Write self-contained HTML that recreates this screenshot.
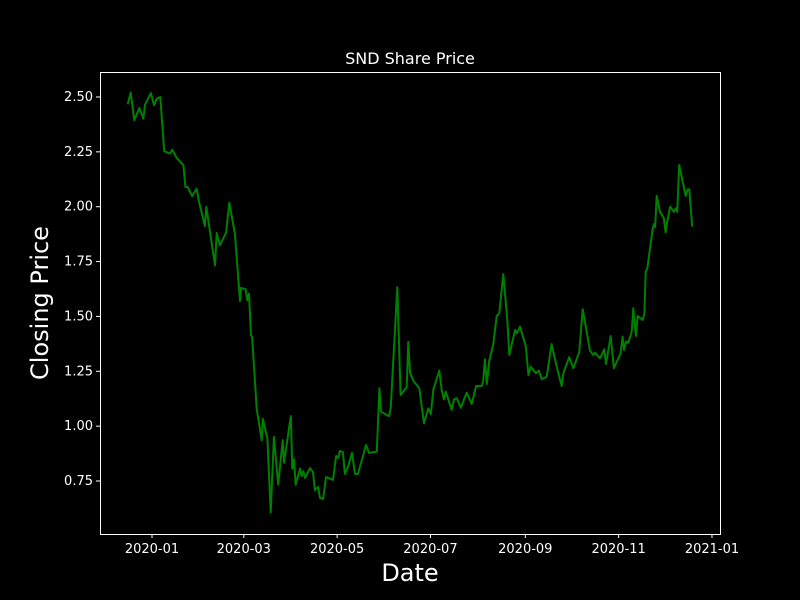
<!DOCTYPE html>
<html><head><meta charset="utf-8"><style>
html,body{margin:0;padding:0;background:#000;}
svg{display:block;font-family:"DejaVu Sans","Liberation Sans",sans-serif;}
</style></head><body>
<svg id="chart" width="800" height="600" viewBox="0 0 800 600" xmlns="http://www.w3.org/2000/svg">
<rect width="800" height="600" fill="#000"/>
<text x="410" y="64" fill="#fff" font-size="16" text-anchor="middle">SND Share Price</text>
<g id="yticks"></g>
<g id="xticks"></g>
<path id="line" fill="none" stroke="#008000" stroke-width="2" stroke-linejoin="round"/>
<rect x="100.5" y="72.5" width="620" height="462" fill="none" stroke="#fff" stroke-width="1"/>
<text x="410" y="581" fill="#fff" font-size="24" text-anchor="middle">Date</text>
<text transform="translate(48,303) rotate(-90)" fill="#fff" font-size="24" text-anchor="middle">Closing Price</text>
</svg>
<script>
// days since 2020-01-01
const days = [-15.9,-13.9,-11.6,-8.3,-5.7,-4.6,-0.7,1.3,3.1,5.4,8.0,11.8,13.3,16.1,20.5,21.8,23.3,26.3,29.2,30.5,34.6,35.5,41.2,42.3,44.4,48.4,50.5,54.2,57.5,58.2,61.2,62.3,63.4,64.7,65.4,68.4,71.7,72.4,75.4,77.6,79.7,82.5,85.4,86.3,90.7,91.7,92.8,93.9,96.7,97.8,98.9,100.0,103.3,105.2,106.5,108.5,109.8,111.8,113.7,118.3,120.3,121.6,122.9,124.8,126.1,128.1,130.7,132.7,134.6,137.9,139.9,141.8,146.9,148.6,149.7,153.4,154.9,156.0,160.3,162.5,166.5,167.5,168.6,170.8,174.7,177.8,180.6,182.2,183.9,187.8,189.3,190.8,192.0,195.9,197.4,199.2,201.8,205.7,209.0,211.8,215.5,216.5,217.6,218.8,220.3,223.1,225.3,227.0,229.6,232.2,233.5,237.3,238.4,240.5,244.4,246.0,247.5,251.0,252.9,254.7,258.0,261.2,264.5,267.8,268.8,272.7,275.4,279.3,281.5,286.3,288.4,289.5,292.8,295.6,296.7,299.8,301.9,306.3,307.6,308.5,309.8,311.3,313.5,314.6,316.3,317.4,320.7,321.8,322.7,323.7,327.3,328.1,328.8,329.9,332.0,334.6,335.7,336.8,338.6,341.2,342.5,343.3,344.6,348.8,350.1,351.2,353.1];
const prices = [2.467,2.520,2.394,2.450,2.401,2.465,2.518,2.462,2.492,2.500,2.253,2.242,2.260,2.223,2.189,2.090,2.090,2.049,2.082,2.029,1.912,1.999,1.733,1.880,1.824,1.882,2.018,1.877,1.570,1.630,1.624,1.574,1.604,1.414,1.406,1.080,0.936,1.034,0.943,0.606,0.951,0.733,0.936,0.833,1.046,0.806,0.849,0.733,0.806,0.773,0.794,0.764,0.809,0.791,0.709,0.723,0.673,0.668,0.768,0.755,0.864,0.855,0.887,0.882,0.782,0.814,0.878,0.782,0.782,0.864,0.914,0.878,0.884,1.173,1.066,1.051,1.046,1.081,1.633,1.142,1.177,1.385,1.244,1.207,1.173,1.013,1.081,1.055,1.168,1.253,1.168,1.122,1.157,1.074,1.122,1.127,1.084,1.153,1.101,1.183,1.183,1.203,1.305,1.192,1.294,1.374,1.502,1.514,1.693,1.484,1.324,1.438,1.423,1.453,1.362,1.233,1.271,1.241,1.253,1.214,1.225,1.374,1.271,1.183,1.241,1.314,1.264,1.339,1.533,1.344,1.324,1.335,1.309,1.350,1.283,1.411,1.264,1.332,1.408,1.347,1.385,1.380,1.430,1.537,1.411,1.502,1.484,1.514,1.704,1.719,1.902,1.921,1.906,2.050,1.977,1.947,1.883,1.932,2.000,1.977,1.993,1.977,2.190,2.049,2.079,2.079,1.909];
const yTickValues = [0.75,1.00,1.25,1.50,1.75,2.00,2.25,2.50];
const xTickDays = [0,60,121,182,244,305,366];
const xTickLabels = ["2020-01","2020-03","2020-05","2020-07","2020-09","2020-11","2021-01"];

const NS="http://www.w3.org/2000/svg";
function xScale(d){return 152 + d*1.530;}
function yScale(v){return 97 + (2.5 - v)*219.43;}

const yg=document.getElementById('yticks');
yTickValues.forEach(v=>{
  const y=yScale(v);
  const l=document.createElementNS(NS,'line');
  
  
  l.setAttribute('x1',96);l.setAttribute('x2',100);l.setAttribute('y1',y);l.setAttribute('y2',y);
  l.setAttribute('stroke','#fff');yg.appendChild(l);
  const t=document.createElementNS(NS,'text');
  
  
  t.setAttribute('x',93);t.setAttribute('y',y+4);t.setAttribute('fill','#fff');
  t.setAttribute('font-size','13');t.setAttribute('text-anchor','end');
  t.textContent=v.toFixed(2);yg.appendChild(t);
});
const xg=document.getElementById('xticks');
xTickDays.forEach((d,i)=>{
  const x=xScale(d);
  const l=document.createElementNS(NS,'line');
  
  
  l.setAttribute('x1',x);l.setAttribute('x2',x);l.setAttribute('y1',534);l.setAttribute('y2',538);
  l.setAttribute('stroke','#fff');xg.appendChild(l);
  const t=document.createElementNS(NS,'text');
  
  
  t.setAttribute('x',x);t.setAttribute('y',553);t.setAttribute('fill','#fff');
  t.setAttribute('font-size','13');t.setAttribute('text-anchor','middle');
  t.textContent=xTickLabels[i];xg.appendChild(t);
});
let d='';
days.forEach((dd,i)=>{d+=(i?'L':'M')+xScale(dd).toFixed(1)+','+yScale(prices[i]).toFixed(1);});
document.getElementById('line').setAttribute('d',d);
</script>
</body></html>
